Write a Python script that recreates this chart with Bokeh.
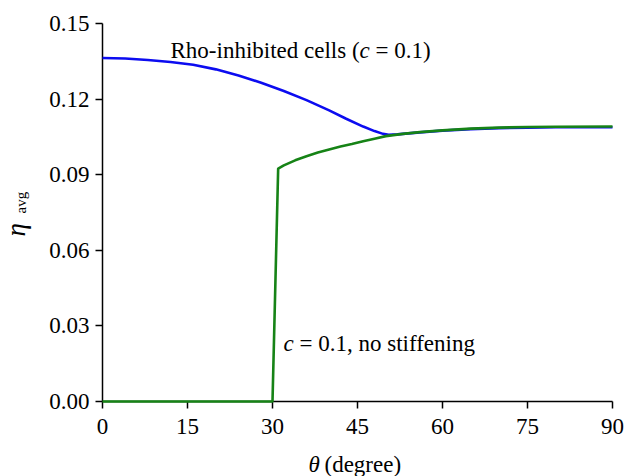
import math
from bokeh.plotting import figure
from bokeh.models import Range1d, FixedTicker, PrintfTickFormatter, Label, LinearAxis
from bokeh.embed import file_html
from bokeh.resources import INLINE

# ---- data ----
theta_blue = [0, 4, 8, 12, 16, 20, 24, 28, 32, 36, 40, 43, 46, 48, 49.5, 50.5, 52,
              56, 60, 65, 70, 75, 80, 90]
eta_blue = [0.1363, 0.1361, 0.1355, 0.1347, 0.1336, 0.1318, 0.1294, 0.1265, 0.1232, 0.1196,
            0.1155, 0.1122, 0.1091, 0.1073, 0.1062, 0.1058, 0.1060,
            0.1068, 0.1075, 0.1081, 0.1085, 0.1087, 0.1088, 0.1088]

theta_green = [0, 30, 31, 32, 34, 36, 38, 40, 42, 44, 46, 48, 50, 53, 56, 60, 65, 70,
               75, 80, 90]
eta_green = [0.0, 0.0, 0.0924, 0.0937, 0.0957, 0.0973, 0.0988, 0.1000, 0.1012, 0.1022,
             0.1033, 0.1043, 0.1053, 0.1062, 0.1069, 0.1076, 0.1083, 0.1087,
             0.1089, 0.1090, 0.1091]

x_ticks = [0, 15, 30, 45, 60, 75, 90]
y_ticks = [0.00, 0.03, 0.06, 0.09, 0.12, 0.15]
X_MIN, X_MAX = 0, 90
Y_MIN, Y_MAX = 0.0, 0.15

FONT = "Liberation Serif"
FS = "23px"

# ---- layout (pixels) ----
W, H = 625, 476
LEFT, RIGHT, TOP, BOTTOM = 102, 612, 23, 401
ppx = (RIGHT - LEFT) / (X_MAX - X_MIN)
ppy = (BOTTOM - TOP) / (Y_MAX - Y_MIN)
x0 = X_MIN - LEFT / ppx
x1 = X_MAX + (W - RIGHT) / ppx
y0 = Y_MIN - (H - BOTTOM) / ppy
y1 = Y_MAX + TOP / ppy


def dx(px):
    return x0 + px / ppx


def dy(py):
    return y1 - py / ppy


p = figure(width=W, height=H, output_backend="svg", toolbar_location=None,
           x_range=Range1d(x0, x1), y_range=Range1d(y0, y1),
           x_axis_location=None, y_axis_location=None,
           min_border=0, min_border_left=0, min_border_right=0,
           min_border_top=0, min_border_bottom=0)
p.outline_line_color = None
p.grid.visible = False
p.background_fill_color = "white"
p.border_fill_color = "white"

xaxis = LinearAxis(fixed_location=Y_MIN, bounds=(X_MIN, X_MAX))
yaxis = LinearAxis(fixed_location=X_MIN, bounds=(Y_MIN, Y_MAX))
p.add_layout(xaxis, "below")
p.add_layout(yaxis, "left")

for ax in (xaxis, yaxis):
    ax.level = "underlay"
    ax.axis_line_color = "black"
    ax.axis_line_width = 1.5
    ax.major_tick_line_color = "black"
    ax.major_tick_line_width = 1.5
    ax.major_tick_out = 7
    ax.major_tick_in = 0
    ax.minor_tick_line_color = None
    ax.major_label_text_font = FONT
    ax.major_label_text_font_size = FS
    ax.major_label_text_color = "black"

xaxis.ticker = FixedTicker(ticks=x_ticks)
xaxis.formatter = PrintfTickFormatter(format="%d")
xaxis.major_label_standoff = 10
yaxis.ticker = FixedTicker(ticks=y_ticks)
yaxis.formatter = PrintfTickFormatter(format="%.2f")
yaxis.major_label_standoff = 6

p.line(theta_blue, eta_blue, line_color="#0c0cf0", line_width=2.6)
p.line(theta_green, eta_green, line_color="#168316", line_width=2.6)


def lab(px, py, text, style="normal", size=FS, xoff=0, angle=0.0):
    p.add_layout(Label(x=dx(px), y=dy(py), text=text, text_font=FONT, text_font_size=size,
                       text_font_style=style, text_color="black", text_align="left",
                       text_baseline="alphabetic", x_offset=xoff, angle=angle))

# annotation: Rho-inhibited cells (c = 0.1)
lab(170, 50, "Rho-inhibited cells (")
lab(170, 50, "c", style="italic", xoff=189)
lab(170, 50, "= 0.1)", xoff=205)

# annotation: c = 0.1, no stiffening
lab(283, 343, "c", style="italic")
lab(283, 343, "= 0.1, no stiffening", xoff=16)

# x axis title: theta (degree)
lab(308, 464, "\u03b8", style="italic")
lab(308, 464, "(degree)", xoff=16)

# y axis title: eta_avg (rotated)
lab(15, 236, "\u03b7", style="italic", size="27px", angle=math.pi / 2)
lab(20, 213, "avg", size="15px", angle=math.pi / 2)

open("out.html", "w").write(file_html(p, INLINE))
